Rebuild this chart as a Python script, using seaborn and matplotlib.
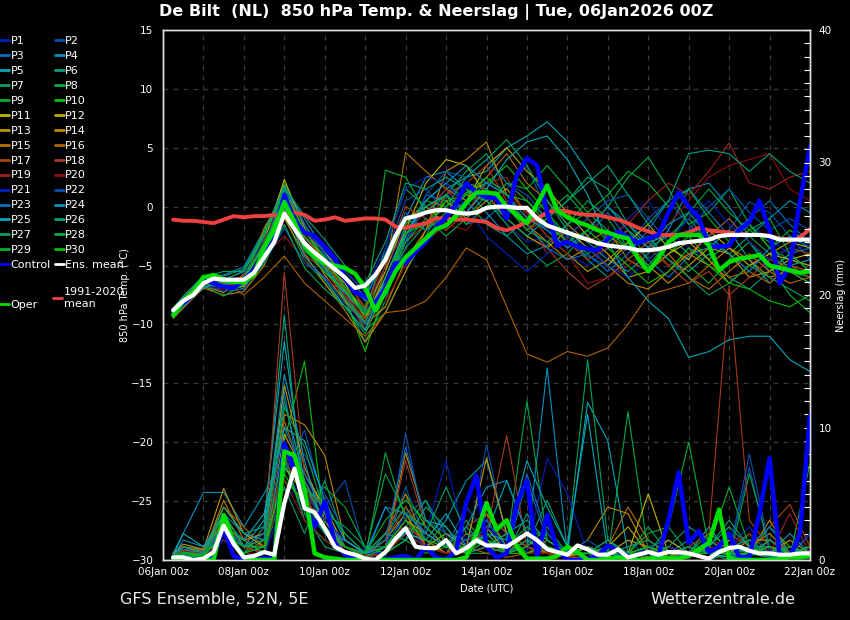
import numpy as np
import pandas as pd
import matplotlib
matplotlib.use("Agg")
import matplotlib.pyplot as plt
import matplotlib.dates as mdates
from matplotlib.lines import Line2D
from matplotlib.ticker import MultipleLocator
import seaborn as sns

# ---------------- data ----------------
START = "2026-01-06 00:00"
HOURS_6H = list(range(6, 385, 6))            # key lines, 6-hourly
HOURS_M = [6] + list(range(12, 385, 12))     # members, 12-hourly

MEAN_T = [-8.8,-8.0,-7.5,-6.5,-6.1,-6.2,-6.2,-6.2,-5.6,-4.3,-3.0,-0.6,-1.9,-3.1,-3.9,-4.6,
          -5.3,-6.0,-6.9,-6.7,-5.8,-4.5,-2.5,-1.0,-0.8,-0.5,-0.3,-0.3,-0.5,-0.6,-0.5,-0.1,
          0.0,0.0,-0.1,-0.1,-1.0,-1.6,-1.9,-2.2,-2.5,-2.8,-3.1,-3.3,-3.4,-3.5,-3.7,-3.7,
          -3.6,-3.4,-3.1,-3.0,-2.9,-2.8,-2.5,-2.4,-2.4,-2.4,-2.4,-2.5,-2.8,-2.8,-2.8,-2.8]
CLIM_T = [-1.1,-1.2,-1.2,-1.3,-1.4,-1.1,-0.8,-0.9,-0.8,-0.8,-0.7,-0.9,-0.5,-0.7,-1.2,-1.1,
          -0.9,-1.2,-1.1,-1.0,-1.0,-1.1,-1.7,-1.8,-1.6,-1.4,-1.0,-1.0,-1.1,-1.1,-1.2,-1.3,
          -1.8,-2.0,-1.7,-1.3,-1.0,-0.5,-0.3,-0.4,-0.6,-0.7,-0.7,-0.9,-1.1,-1.4,-1.8,-2.1,
          -2.4,-2.4,-2.4,-2.2,-1.8,-2.0,-2.1,-2.2,-2.3,-2.4,-2.4,-2.5,-2.7,-2.8,-2.6,-1.9]
CONTROL_T = [-9.0,-8.2,-7.5,-6.2,-6.5,-6.8,-6.9,-6.2,-5.4,-4.1,-2.6,1.0,-1.2,-2.2,-2.5,-3.4,
             -4.4,-6.1,-7.3,-7.6,-8.2,-6.9,-4.8,-4.8,-3.8,-3.0,-1.8,-0.9,0.2,2.0,1.2,0.8,
             0.7,-1.0,2.7,4.1,3.5,-0.5,-3.3,-3.0,-3.4,-3.6,-3.7,-2.7,-2.1,-2.6,-3.1,-2.7,
             -2.4,-0.5,1.2,0.0,-0.9,-3.4,-3.4,-3.3,-2.0,-1.3,0.5,-2.0,-6.5,-5.0,0.4,5.1]
OPER_T = [-9.2,-8.0,-7.2,-6.0,-5.8,-6.2,-6.4,-6.4,-5.8,-3.5,-2.0,0.4,-1.3,-3.3,-4.2,-4.8,
          -5.0,-5.2,-5.7,-6.9,-8.8,-7.2,-5.5,-4.3,-3.5,-2.7,-1.9,-1.6,-0.8,0.3,1.2,1.2,
          1.1,0.0,-0.7,-1.4,0.2,1.8,-0.3,-0.9,-1.3,-1.6,-2.0,-2.2,-2.5,-2.7,-4.4,-5.5,
          -4.4,-3.0,-2.4,-2.4,-2.4,-3.3,-5.4,-4.7,-4.4,-4.3,-4.1,-5.0,-5.2,-5.4,-5.6,-5.5]

MEAN_P = [0.2,0.2,0.0,0.1,0.6,2.6,1.2,0.2,0.3,0.6,0.4,4.3,6.9,3.9,3.6,2.4,
          1.0,0.6,0.4,0.1,0.0,0.6,1.6,2.4,1.0,0.9,0.9,1.5,0.5,0.9,1.5,1.1,
          1.1,1.0,1.5,2.0,1.5,0.8,0.6,0.4,1.1,0.8,0.4,0.4,0.8,0.2,0.4,0.6,
          0.4,0.6,0.6,0.5,0.3,0.1,0.6,0.9,1.0,0.7,0.5,0.5,0.4,0.4,0.5,0.5]
CONTROL_P = [0.0,0.1,0.0,0.0,0.3,2.3,0.3,0.0,0.0,0.1,0.2,8.8,6.8,4.5,2.5,4.4,
             1.3,0.4,0.1,0.0,0.0,0.0,0.2,0.3,0.0,1.0,0.2,0.0,0.7,4.3,6.4,1.0,
             0.2,0.5,4.3,6.0,0.2,3.4,0.8,0.0,0.0,0.1,0.3,1.1,0.7,0.3,0.0,0.0,
             0.3,3.0,6.6,1.3,2.2,0.6,1.0,2.0,0.2,0.2,3.5,7.7,0.2,0.2,2.0,10.9]
OPER_P = [0.1,0.0,0.0,0.0,0.0,3.4,1.3,0.2,0.0,0.0,0.0,8.2,7.9,5.3,0.5,0.2,
          0.1,0.0,0.0,0.0,0.0,0.0,0.0,0.0,0.0,0.0,0.0,0.0,0.0,0.2,2.0,4.3,
          2.3,3.0,1.0,0.1,0.1,0.1,0.3,1.0,0.6,0.0,0.0,0.1,0.2,0.1,0.0,0.1,
          0.2,0.1,0.1,0.3,0.8,1.3,3.8,0.1,0.0,0.0,0.0,0.0,0.1,0.2,0.2,0.3]

# member temperatures (12-hourly)
t_p01 = [-9.0,-8.2,-6.4,-6.6,-6.0,-3.5,0.5,-2.8,-4.0,-6.5,-8.0,-5.5,-1.5,-0.5,0.8,1.9,0.6,-1.5,-3.0,-2.5,-4.0,-5.0,-3.6,-1.0,0.5,-2.0,-3.5,-4.5,-3.0,-1.5,-2.8,-4.0,-3.0]
t_p02 = [-8.8,-7.9,-6.1,-6.3,-5.4,-2.6,1.2,-2.0,-3.3,-5.5,-7.3,-4.1,0.5,1.5,-0.5,1.0,2.1,1.5,3.5,-0.5,-3.0,-4.2,-5.0,-3.5,-1.0,0.5,-1.5,-3.0,-2.0,0.4,-0.5,-2.5,-4.5]
t_p03 = [-9.2,-8.1,-6.6,-6.9,-6.6,-4.0,-0.5,-3.5,-5.5,-7.0,-9.0,-6.5,-3.0,1.0,0.5,-1.5,-1.0,0.5,-0.5,-2.0,-3.5,-2.5,-0.5,-2.8,-4.5,-6.0,-4.2,-2.5,-1.0,-3.0,-5.5,-4.0,-3.5]
t_p04 = [-8.7,-7.7,-5.9,-5.8,-5.1,-2.0,1.5,-1.0,-3.8,-6.0,-7.6,-4.5,-1.0,2.5,3.0,1.5,-0.5,-2.5,-4.0,-3.3,-1.5,-3.0,-4.5,-5.5,-4.0,-2.0,1.5,2.0,0.0,-2.5,-1.0,0.5,-0.5]
t_p05 = [-9.4,-8.5,-6.8,-6.3,-7.0,-3.8,0.8,-3.0,-4.8,-7.5,-10.0,-7.5,-2.0,-0.5,1.5,2.5,3.0,5.0,6.0,7.2,5.5,3.0,0.0,-1.5,-3.0,-2.5,-4.0,-3.5,-2.0,-4.5,-6.5,-5.0,-4.5]
t_p06 = [-9.0,-7.9,-6.2,-6.9,-6.3,-3.0,0.2,-3.8,-5.0,-8.0,-11.5,-8.0,-2.5,0.5,2.0,0.5,-1.5,-2.5,-1.0,0.5,-2.0,-4.5,-6.0,-4.5,-3.0,-4.5,-5.5,-4.0,-6.0,-7.0,-5.5,-4.0,-5.5]
t_p07 = [-8.9,-8.0,-6.0,-5.5,-5.5,-2.5,2.0,-1.5,-4.5,-6.8,-9.0,-3.5,1.5,0.0,1.0,3.0,4.5,2.0,0.5,-1.0,0.5,2.5,1.5,-1.5,-3.5,-2.5,-1.0,-3.0,-4.0,-2.5,-4.0,-5.5,-6.0]
t_p08 = [-9.1,-8.3,-6.5,-6.0,-6.8,-4.5,-0.8,-4.5,-6.5,-8.5,-9.5,-5.0,-1.0,-2.0,-0.5,1.0,0.5,-1.5,-3.5,-5.0,-4.0,-2.0,0.0,2.5,4.2,1.5,-1.5,-0.5,1.5,-1.5,-3.5,-4.5,-5.0]
t_p09 = [-9.3,-8.4,-6.3,-6.8,-6.2,-2.0,1.0,-2.5,-4.2,-7.0,-10.5,-9.0,-5.5,-2.5,1.0,2.0,1.5,0.0,-2.0,-0.5,1.0,-1.0,-3.0,-2.0,-4.5,-3.0,-5.0,-6.5,-4.5,-3.0,-5.0,-7.5,-9.0]
t_p10 = [-8.6,-7.8,-5.8,-6.5,-5.9,-3.3,0.0,-3.2,-5.2,-7.8,-12.3,-7.0,-1.5,0.5,0.0,1.2,2.0,3.5,1.5,-0.5,-2.5,-4.0,-2.5,-3.5,-5.5,-4.0,-2.5,-4.5,-3.0,-1.5,-3.5,-2.0,-3.0]
t_p11 = [-9.1,-8.0,-6.2,-6.0,-6.4,-3.0,2.3,-1.8,-4.8,-6.5,-9.5,-6.0,-2.0,2.0,4.0,3.5,1.0,-1.0,-2.5,-3.5,-2.0,-3.5,-5.0,-3.0,-1.5,-3.5,-4.5,-2.0,-3.5,-5.0,-4.0,-4.5,-4.0]
t_p12 = [-8.8,-8.1,-6.1,-6.7,-6.8,-4.2,1.8,-2.2,-3.8,-6.2,-8.6,-5.5,-1.0,0.0,-1.5,0.5,3.5,5.0,3.0,1.5,-0.5,-2.5,-4.0,-6.0,-5.5,-4.0,-3.0,-4.5,-6.5,-5.0,-4.0,-3.0,-3.5]
t_p13 = [-9.0,-8.3,-6.7,-7.3,-5.7,-3.5,-0.3,-3.0,-5.8,-8.0,-10.0,-8.5,-4.5,-2.0,0.5,-1.0,0.5,1.5,-0.5,-2.5,-4.0,-5.5,-4.5,-3.0,-5.0,-6.5,-5.0,-3.5,-4.0,-6.0,-5.5,-4.5,-5.0]
t_p14 = [-9.5,-8.6,-6.9,-7.5,-7.2,-5.0,-1.0,-4.0,-6.5,-8.8,-11.5,-9.0,-5.5,-2.0,3.0,4.0,5.5,1.0,-1.5,-3.0,-4.5,-3.5,-5.0,-6.5,-7.0,-5.5,-4.0,-5.0,-3.5,-4.5,-6.0,-5.5,-6.5]
t_p15 = [-8.9,-8.0,-6.2,-6.5,-6.4,-1.8,1.0,-2.6,-4.5,-7.2,-9.8,-5.5,4.6,3.0,1.5,0.5,2.5,4.5,2.0,0.5,-1.5,-3.0,-2.0,-4.5,-5.5,-4.0,-6.0,-7.0,-5.5,-4.0,-5.5,-6.5,-6.0]
t_p16 = [-9.3,-8.4,-6.7,-6.4,-7.5,-6.0,-4.2,-6.5,-8.0,-9.5,-11.0,-9.0,-8.8,-8.0,-6.0,-3.5,-4.5,-8.5,-12.5,-13.2,-12.3,-12.7,-12.0,-10.0,-7.5,-7.0,-6.5,-5.0,-6.0,-5.5,-6.5,-5.0,-5.5]
t_p17 = [-9.0,-8.2,-6.4,-6.2,-6.0,-2.8,0.7,-3.4,-5.0,-7.0,-8.5,-4.5,0.0,-1.0,-2.0,-0.5,1.5,0.0,-2.0,-1.0,-3.0,-4.5,-3.5,-2.0,-3.5,-5.0,-4.0,-2.5,-1.0,-3.0,-4.5,-3.5,-4.0]
t_p18 = [-9.2,-8.3,-6.5,-6.6,-6.7,-3.6,0.3,-4.0,-5.5,-7.6,-10.5,-7.0,-3.0,-1.5,1.0,2.0,3.5,0.5,-1.5,-3.5,-5.5,-7.0,-6.0,-4.5,-3.0,-5.0,-6.5,-5.5,-7.5,-6.0,-4.5,-5.0,-6.0]
t_p19 = [-8.7,-7.8,-6.0,-6.8,-5.8,-3.2,1.3,-2.3,-3.6,-5.8,-8.8,-5.0,-2.0,-0.5,1.5,-0.5,2.0,2.5,-1.0,-4.0,-2.5,-1.0,-2.5,-1.5,0.5,2.0,1.0,3.0,5.4,2.0,1.5,2.5,3.0]
t_p20 = [-9.1,-8.1,-6.8,-7.0,-6.1,-4.2,-2.5,-4.5,-6.0,-7.5,-9.5,-8.0,-5.0,-3.0,-1.5,-2.0,0.0,1.0,-0.5,-2.5,-4.0,-6.5,-6.0,-5.0,-3.5,-1.5,0.5,2.5,3.5,4.0,4.5,1.5,0.5]
t_p21 = [-9.0,-8.0,-6.3,-6.1,-5.6,-3.0,0.6,-2.0,-3.8,-5.5,-7.0,-3.5,1.5,2.5,2.0,0.0,-2.5,-4.0,-5.5,-4.0,-2.5,-3.5,-5.0,-6.0,-4.5,-3.0,-1.0,0.5,-1.5,-3.0,-4.5,-3.5,-2.5]
t_p22 = [-9.2,-8.4,-6.6,-7.2,-7.0,-4.8,-1.8,-4.8,-6.0,-8.2,-10.0,-7.5,-3.5,1.0,3.0,2.5,4.0,2.0,1.0,-1.0,-2.5,-1.0,0.5,1.0,-1.0,-3.0,-2.0,0.0,1.5,-0.5,-2.0,-1.0,-2.0]
t_p23 = [-8.8,-7.9,-6.0,-6.3,-6.5,-3.8,1.6,-1.5,-4.0,-6.2,-8.0,-4.0,-0.5,-2.0,-0.8,0.5,2.0,1.0,-1.5,-3.5,-4.5,-4.0,-5.5,-4.0,-2.0,0.5,1.5,-0.5,-2.5,-1.0,0.5,-1.5,-3.0]
t_p24 = [-9.0,-8.2,-6.4,-6.6,-6.2,-3.4,0.9,-3.3,-5.3,-7.3,-9.2,-6.5,-2.5,0.5,2.0,3.5,2.0,1.0,-1.0,-2.0,-3.5,-2.0,0.0,-2.0,-3.5,-1.5,-0.5,-2.5,-4.0,-5.5,-3.5,-2.5,-3.5]
t_p25 = [-9.3,-8.3,-6.9,-6.3,-6.6,-3.9,0.0,-4.2,-6.2,-8.5,-10.5,-6.0,-2.0,0.0,1.0,-0.5,1.5,4.0,5.5,6.0,4.0,1.0,-3.0,-6.0,-8.0,-9.5,-12.8,-12.3,-11.3,-11.0,-11.0,-13.0,-14.0]
t_p26 = [-8.6,-7.6,-5.9,-5.9,-5.3,-2.2,1.7,-0.8,-2.8,-5.0,-6.5,-3.0,2.0,1.5,2.5,1.5,0.5,-1.0,-2.5,-1.0,0.5,2.0,3.5,1.0,-1.5,0.5,4.5,4.8,4.5,3.0,4.5,3.0,2.0]
t_p27 = [-9.1,-8.1,-6.5,-6.8,-6.0,-2.4,1.1,-2.9,-4.6,-7.9,-9.8,-6.5,-3.5,-1.5,0.0,2.5,4.0,5.7,3.5,0.5,-1.5,-0.5,-2.0,-3.5,-2.5,-4.5,-6.0,-7.5,-6.5,-5.0,-6.0,-7.0,-8.0]
t_p28 = [-9.4,-8.5,-6.7,-7.6,-6.6,-4.8,-1.5,-5.2,-7.0,-8.5,-10.8,-7.0,-3.0,-1.0,-2.5,-1.0,1.0,0.0,-2.0,-3.0,-1.5,0.5,-1.0,-3.5,-5.0,-3.0,-0.5,1.5,-0.5,-2.0,-3.0,-5.5,-6.5]
t_p29 = [-8.9,-7.9,-6.2,-6.2,-5.5,-2.3,1.4,-2.1,-4.4,-6.8,-8.8,3.1,2.5,-0.5,1.0,-1.5,0.0,2.0,1.5,3.5,1.5,-0.5,1.0,3.0,2.0,0.0,1.5,-1.0,-3.0,-2.0,-1.0,-4.0,-5.5]
t_p30 = [-9.0,-8.1,-6.4,-6.5,-6.1,-3.1,0.4,-3.6,-5.6,-7.1,-9.2,-6.8,-2.2,-1.5,0.5,1.0,2.5,1.0,0.5,-1.5,-3.0,-2.0,-3.5,-5.0,-6.5,-5.5,-3.5,-5.0,-6.5,-7.0,-8.0,-8.5,-7.5]

# member precipitation (12-hourly, mm)
r_p01 = [0.2,0.5,0.3,1.5,0.5,0.3,4.5,6.0,3.5,1.0,0.2,0.5,2.5,1.0,0.5,1.5,3.0,0.5,1.0,2.0,0.5,0.2,0.0,0.3,0.8,0.2,0.5,0.0,1.0,2.5,0.5,0.3,1.0]
r_p02 = [0.0,0.3,0.2,2.5,1.0,0.5,6.5,9.8,4.0,6.0,0.5,0.2,9.6,2.0,1.0,0.5,8.7,1.5,0.5,1.0,0.2,0.0,0.5,1.5,0.2,0.0,0.3,1.0,0.5,7.0,0.5,0.2,0.5]
r_p03 = [0.5,1.0,0.5,3.0,1.5,2.0,12.7,4.0,2.0,0.5,0.0,1.0,3.5,4.5,2.0,1.0,2.5,0.5,6.0,1.5,0.5,1.0,0.2,0.5,1.0,1.5,0.5,0.2,1.5,0.5,1.0,0.2,2.0]
r_p04 = [0.3,2.0,5.1,5.1,2.5,5.0,8.0,3.0,1.5,0.5,0.2,4.0,2.0,1.0,3.0,6.0,7.5,2.0,1.0,14.5,0.5,1.0,0.5,0.2,0.0,0.5,1.5,0.5,0.2,1.0,0.5,0.3,0.5]
r_p05 = [0.5,1.0,0.8,2.0,1.0,3.0,16.5,5.5,3.0,1.0,0.5,0.5,1.5,3.0,2.5,0.5,2.0,6.0,2.0,1.0,0.5,11.9,9.0,0.5,0.2,1.0,0.5,2.5,0.5,0.2,1.5,0.5,0.3]
r_p06 = [0.2,0.5,0.5,1.5,0.5,2.5,18.5,3.5,1.0,0.5,0.0,2.0,4.0,1.5,0.5,2.5,1.0,0.5,3.5,1.0,0.2,0.5,1.5,0.5,1.0,0.5,0.2,1.0,2.5,1.0,0.3,0.5,0.2]
r_p07 = [0.0,0.2,0.5,2.0,1.5,0.5,5.5,2.0,6.0,1.5,0.5,0.5,2.5,4.5,1.0,0.5,1.5,0.5,1.0,4.5,1.0,15.1,1.5,0.2,0.5,2.5,0.5,0.0,0.5,1.0,2.0,0.5,0.5]
r_p08 = [0.3,0.5,0.2,3.5,1.0,1.0,7.5,3.0,1.5,0.5,0.2,8.1,3.0,1.0,2.0,0.5,0.5,1.0,12.0,1.5,0.5,1.0,0.2,11.2,0.5,0.5,1.0,0.5,0.0,6.5,1.0,0.2,0.5]
r_p09 = [0.1,0.3,0.2,2.5,0.5,1.5,6.0,4.5,5.5,4.0,1.0,0.5,1.5,0.5,1.0,3.0,1.0,2.0,0.5,1.0,0.3,0.5,1.0,0.5,2.0,2.5,8.9,1.0,0.5,2.0,0.5,0.2,7.3]
r_p10 = [0.2,0.5,0.3,2.0,1.0,0.5,9.0,15.0,2.5,1.0,0.5,1.5,5.0,2.5,1.0,0.5,2.0,0.5,1.0,0.5,0.2,0.5,0.0,0.5,1.0,0.3,0.5,2.0,1.0,0.5,2.5,1.0,0.5]
r_p11 = [0.3,0.8,0.5,4.0,2.0,1.0,7.0,5.0,3.0,0.5,0.2,0.5,2.0,1.5,0.5,1.0,2.5,0.5,1.5,0.5,0.2,1.0,0.5,0.5,5.0,0.5,0.2,1.0,0.5,1.5,1.5,0.5,0.3]
r_p12 = [0.4,1.0,0.6,3.5,1.0,0.5,9.5,6.5,4.0,1.0,0.5,1.0,3.0,2.0,1.0,0.5,3.5,1.0,0.5,1.0,0.5,0.2,1.0,2.5,0.5,1.5,0.5,0.2,1.5,0.5,0.5,1.0,0.5]
r_p13 = [0.5,1.2,0.8,5.4,2.0,1.5,13.2,7.0,3.5,0.5,0.5,1.5,3.5,1.0,2.0,1.0,7.7,2.0,1.0,0.5,0.5,1.0,0.5,1.5,1.0,0.5,0.2,1.5,0.5,1.0,0.5,1.5,0.5]
r_p14 = [0.2,0.6,0.4,4.5,1.5,2.0,11.0,10.2,7.9,1.5,0.5,1.0,8.1,3.0,1.5,0.5,1.0,0.5,2.0,1.0,0.5,1.5,4.0,3.5,0.5,1.0,0.5,0.2,1.0,0.5,3.0,0.5,0.3]
r_p15 = [0.3,0.8,0.5,3.0,1.0,1.5,8.5,4.5,2.5,1.0,0.5,2.0,5.0,1.0,0.5,2.0,1.5,1.0,0.5,1.5,0.5,0.5,1.0,4.0,1.5,0.5,1.0,0.5,0.5,1.0,2.0,0.5,0.2]
r_p16 = [0.4,1.0,0.7,4.0,2.5,1.0,10.5,6.0,3.0,1.5,0.5,1.0,2.5,1.5,0.5,1.0,0.5,0.2,0.5,0.5,0.2,0.2,0.5,0.5,1.0,0.2,0.5,0.5,0.5,0.5,1.0,0.5,0.5]
r_p17 = [0.3,0.5,0.4,3.0,1.0,0.5,7.5,5.0,2.0,1.0,0.3,1.5,4.0,2.0,1.0,2.5,3.5,2.0,1.0,0.5,0.5,1.0,0.5,0.5,0.5,1.0,0.5,0.5,2.0,1.0,2.5,4.2,1.0]
r_p18 = [0.2,0.6,0.5,2.5,1.5,1.0,21.7,6.5,3.5,1.0,0.5,1.0,7.5,2.5,1.0,1.5,2.0,9.4,1.0,0.5,0.5,0.5,1.0,0.5,0.2,0.5,1.0,2.0,20.7,3.0,1.0,0.5,0.5]
r_p19 = [0.3,0.7,0.5,2.0,1.0,0.5,8.0,5.5,2.5,0.5,0.3,0.5,3.0,1.0,0.5,1.0,1.5,0.5,0.5,1.0,0.5,1.0,0.5,0.5,0.5,1.0,0.5,1.5,1.0,2.0,0.5,3.5,0.5]
r_p20 = [0.2,0.4,0.3,1.5,0.5,0.5,6.0,3.0,1.5,0.5,0.2,0.5,2.0,1.0,0.5,0.5,1.0,0.5,0.5,0.5,0.2,0.5,0.5,0.5,0.5,0.2,0.5,1.0,0.5,0.5,1.0,0.5,0.5]
r_p21 = [0.1,0.4,0.3,2.5,0.5,1.0,9.0,5.0,3.0,1.5,0.5,0.5,3.5,2.0,7.5,1.0,2.5,1.0,0.5,7.7,5.0,0.5,0.2,0.5,0.5,1.0,0.5,0.2,1.0,0.5,0.5,0.5,2.0]
r_p22 = [0.3,0.5,0.5,2.0,1.5,0.5,7.0,8.0,5.0,2.0,0.5,1.0,5.5,1.5,1.0,4.0,2.0,0.5,1.5,1.0,0.5,1.5,0.5,0.2,1.0,0.5,0.5,1.5,0.5,8.0,1.0,0.5,0.5]
r_p23 = [0.4,0.8,0.6,2.5,1.0,2.0,10.0,6.5,3.5,1.0,0.5,1.5,8.5,3.0,2.0,1.5,3.0,1.0,6.5,2.0,0.5,0.5,0.2,0.5,0.5,0.5,1.0,0.5,0.5,1.0,2.5,0.5,1.0]
r_p24 = [0.2,1.5,1.0,3.5,2.0,1.5,14.0,7.5,2.0,1.5,0.5,4.0,3.5,2.0,1.0,2.5,5.5,6.0,2.0,1.0,0.5,0.5,0.5,0.5,1.0,0.5,0.5,0.5,1.0,1.5,0.5,2.0,0.5]
r_p25 = [0.5,2.0,1.0,2.5,1.5,3.5,10.0,9.0,4.5,1.5,0.5,1.0,2.0,1.5,3.5,1.0,2.0,1.5,7.5,4.0,1.0,11.0,0.5,0.2,0.5,0.2,0.5,0.5,0.2,0.5,0.2,0.5,0.2]
r_p26 = [0.3,1.0,0.5,4.0,2.0,2.5,12.0,6.0,2.5,0.5,0.5,2.0,1.5,4.0,2.5,0.5,1.0,2.0,3.0,1.5,0.5,1.0,0.5,1.0,1.5,0.5,0.5,1.0,3.0,1.0,1.0,0.5,1.0]
r_p27 = [0.2,0.5,0.4,3.5,1.0,1.5,11.5,8.5,3.5,2.5,1.0,1.0,2.5,2.0,5.5,2.0,1.0,0.5,1.5,1.0,0.5,0.5,1.5,0.5,0.5,1.0,2.5,1.5,0.5,0.5,0.5,1.0,0.5]
r_p28 = [0.1,0.5,0.3,2.0,1.0,1.0,8.5,4.5,2.0,1.0,0.5,6.5,3.5,2.5,1.0,0.5,1.5,1.0,2.5,1.5,0.5,1.0,0.5,0.5,2.5,0.5,1.0,0.5,1.0,0.5,1.5,0.5,0.5]
r_p29 = [0.3,0.6,0.4,2.5,1.5,0.5,7.0,5.5,4.0,2.0,0.5,3.0,4.5,3.0,1.5,0.5,2.0,0.5,1.0,2.5,0.5,0.5,1.0,0.5,0.5,0.5,0.5,1.0,5.5,1.0,0.5,0.5,1.0]
r_p30 = [0.2,0.4,0.3,2.0,0.5,1.0,6.5,4.0,2.5,1.0,0.2,1.0,3.0,1.5,1.0,1.0,1.5,0.5,0.5,1.0,0.5,0.5,0.5,0.5,1.0,0.5,0.5,0.5,0.5,0.5,1.0,0.5,0.5]

MEMBER_NAMES = [f"P{i}" for i in range(1, 31)]
X_TICK_DATES = ["2026-01-06", "2026-01-08", "2026-01-10", "2026-01-12",
                "2026-01-14", "2026-01-16", "2026-01-18", "2026-01-20", "2026-01-22"]
TITLE = "De Bilt  (NL)  850 hPa Temp. & Neerslag | Tue, 06Jan2026 00Z"

member_temps = [t_p01, t_p02, t_p03, t_p04, t_p05, t_p06, t_p07, t_p08, t_p09, t_p10,
                t_p11, t_p12, t_p13, t_p14, t_p15, t_p16, t_p17, t_p18, t_p19, t_p20,
                t_p21, t_p22, t_p23, t_p24, t_p25, t_p26, t_p27, t_p28, t_p29, t_p30]
member_prec = [r_p01, r_p02, r_p03, r_p04, r_p05, r_p06, r_p07, r_p08, r_p09, r_p10,
               r_p11, r_p12, r_p13, r_p14, r_p15, r_p16, r_p17, r_p18, r_p19, r_p20,
               r_p21, r_p22, r_p23, r_p24, r_p25, r_p26, r_p27, r_p28, r_p29, r_p30]

# ---------------- style ----------------
COLS20 = ["#0020c0", "#0050b0", "#0070c0", "#0090c0", "#00a8b8", "#00a080", "#00a060",
          "#00a848", "#00b030", "#00c000", "#c0b800", "#c0a800", "#c09800", "#c08800",
          "#b87000", "#b06000", "#a84808", "#a83820", "#a02020", "#901010"]
member_colors = COLS20 + COLS20[:10]

sns.set_theme(style="dark", rc={
    "figure.facecolor": "black", "axes.facecolor": "black",
    "axes.edgecolor": "#e0e0e0", "text.color": "white",
    "axes.labelcolor": "white", "xtick.color": "white", "ytick.color": "white",
    "grid.color": "#3a3a3a", "grid.linestyle": (0, (4, 4)), "grid.linewidth": 0.9,
})
plt.rcParams["font.family"] = ["DejaVu Sans"]

start = pd.Timestamp(START)
t6 = start + pd.to_timedelta(HOURS_6H, unit="h")
tm = start + pd.to_timedelta(HOURS_M, unit="h")

fig = plt.figure(figsize=(8.5, 6.2), dpi=100)
fig.patch.set_facecolor("black")
ax = fig.add_axes([163 / 850, 60 / 620, 647 / 850, 530 / 620])
ax2 = ax.twinx()

# temperature members
for vals, c in zip(member_temps, member_colors):
    sns.lineplot(x=tm, y=vals, ax=ax, color=c, linewidth=0.8, legend=False)
sns.lineplot(x=t6, y=CLIM_T, ax=ax, color="#f04040", linewidth=2.8, legend=False)
sns.lineplot(x=t6, y=CONTROL_T, ax=ax, color="#0000ff", linewidth=3.2, legend=False)
sns.lineplot(x=t6, y=OPER_T, ax=ax, color="#00dd00", linewidth=3.2, legend=False)
sns.lineplot(x=t6, y=MEAN_T, ax=ax, color="white", linewidth=3.0, legend=False)

# precipitation
for vals, c in zip(member_prec, member_colors):
    sns.lineplot(x=tm, y=vals, ax=ax2, color=c, linewidth=0.8, legend=False)
sns.lineplot(x=t6, y=CONTROL_P, ax=ax2, color="#0000ff", linewidth=3.2, legend=False)
sns.lineplot(x=t6, y=OPER_P, ax=ax2, color="#00dd00", linewidth=3.2, legend=False)
sns.lineplot(x=t6, y=MEAN_P, ax=ax2, color="white", linewidth=3.0, legend=False)

# axes setup
ax.set_xlim(pd.Timestamp("2026-01-06"), pd.Timestamp("2026-01-22"))
ax.set_ylim(-30, 15)
ax2.set_ylim(0, 40)
ax.set_yticks(list(range(-30, 16, 5)))
ax.set_xticks(pd.to_datetime(X_TICK_DATES))
ax.xaxis.set_major_formatter(mdates.DateFormatter("%d%b %Hz"))
ax.xaxis.set_minor_locator(mdates.DayLocator())
ax.grid(True, which="both", axis="x")
ax.grid(True, which="major", axis="y")
ax2.grid(False)
ax.tick_params(axis="x", which="both", length=0, labelsize=7.5, pad=5, colors="white")
ax.tick_params(axis="y", which="both", length=0, labelsize=7.5, pad=7, colors="white")
ax2.yaxis.set_major_locator(MultipleLocator(10))
ax2.yaxis.set_minor_locator(MultipleLocator(1))
ax2.tick_params(axis="y", which="both", direction="in", length=4, width=0.8,
                colors="white", labelsize=7.5, pad=6)
for a in (ax, ax2):
    for s in a.spines.values():
        s.set_color("#e0e0e0")
        s.set_linewidth(1.0)
ax.set_xlabel("Date (UTC)", fontsize=7, color="white", labelpad=5)
ax.set_ylabel("850 hPa Temp. (°C)", fontsize=7, color="white", labelpad=0.8)
ax2.set_ylabel("Neerslag (mm)", fontsize=7, color="white", labelpad=3)

# legend: members, Control, Ens. mean
handles, labels = [], []
for i in range(0, 30, 2):
    handles.append(Line2D([], [], color=member_colors[i], lw=2))
    labels.append(MEMBER_NAMES[i])
handles.append(Line2D([], [], color="#0000ff", lw=2)); labels.append("Control")
for i in range(1, 30, 2):
    handles.append(Line2D([], [], color=member_colors[i], lw=2))
    labels.append(MEMBER_NAMES[i])
handles.append(Line2D([], [], color="white", lw=2)); labels.append("Ens. mean")
leg_kw = dict(frameon=False, fontsize=8, labelcolor="white", handlelength=0.8,
              handletextpad=0.15, borderpad=0, borderaxespad=0)
leg1 = fig.legend(handles, labels, loc="upper left", bbox_to_anchor=(0.0, 1 - 36 / 620),
                  ncol=2, columnspacing=0.35, labelspacing=0.445, **leg_kw)
leg2 = fig.legend([Line2D([], [], color="#00dd00", lw=2)], ["Oper"], loc="center left",
                  bbox_to_anchor=(0.0, 1 - 305 / 620), **leg_kw)
leg3 = fig.legend([Line2D([], [], color="#ff4040", lw=2)], ["1991-2020\nmean"],
                  loc="center left", bbox_to_anchor=(53 / 850, 1 - 298 / 620), **leg_kw)

fig.text(436 / 850, 1 - 12 / 620, TITLE, ha="center", va="center",
         fontsize=11.5, fontweight="bold", color="white")
fig.text(120 / 850, 1 - 599 / 620, "GFS Ensemble, 52N, 5E", ha="left", va="center",
         fontsize=11.5, color="#e8e8e8")
fig.text(795 / 850, 1 - 599 / 620, "Wetterzentrale.de", ha="right", va="center",
         fontsize=11.5, color="#e8e8e8")

fig.savefig("out.png", dpi=100, facecolor="black")
